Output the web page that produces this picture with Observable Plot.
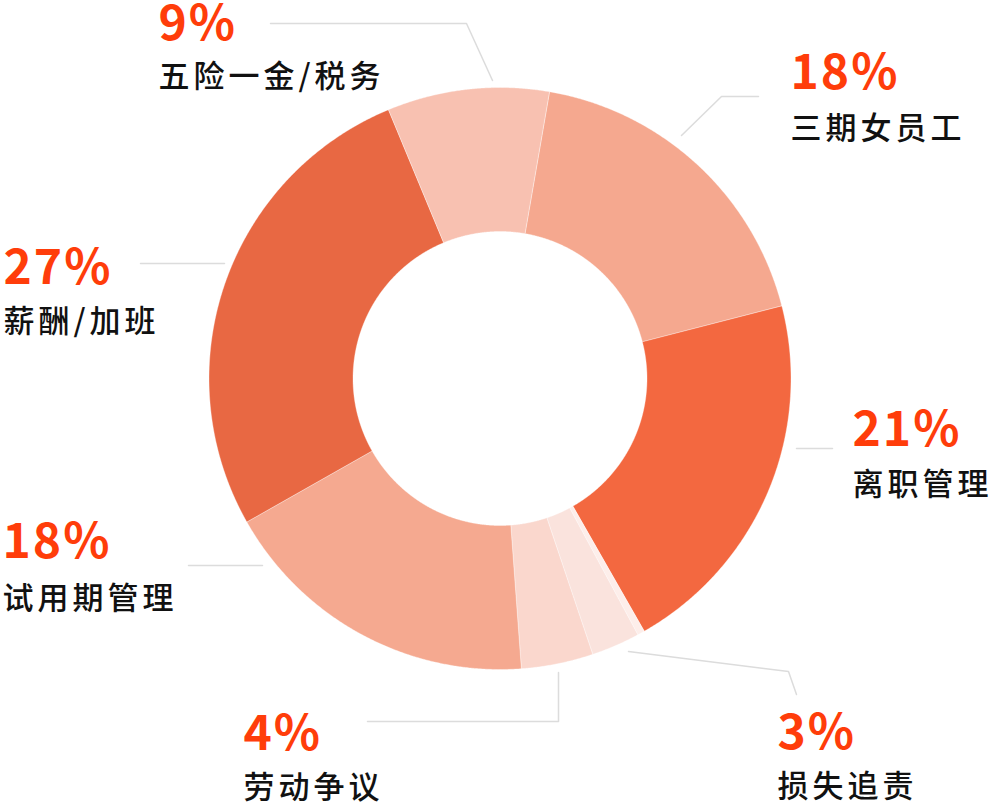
<!DOCTYPE html>
<html>
<head>
<meta charset="utf-8">
<script src="https://cdn.jsdelivr.net/npm/d3@7"></script>
<script src="https://cdn.jsdelivr.net/npm/@observablehq/plot@0.6"></script>
<style>
  html, body { margin: 0; padding: 0; background: #fff; }
  #chart svg { display: block; }
  g[aria-description="pct"] text { letter-spacing: 2px; }
  g[aria-description="name"] text { letter-spacing: 4px; }
</style>
</head>
<body>
<div id="chart"></div>
<script>
// ---- data (clockwise, starting just right of 12 o'clock) ----
const categories = ["三期女员工", "离职管理", "", "损失追责", "劳动争议", "试用期管理", "薪酬/加班", "五险一金/税务"];
const values = [18.3, 20.8, 0.4, 2.7, 4.0, 18.0, 27.0, 9.0];
const sliceColors = ["#f5a88f", "#f36840", "#fdeeea", "#fae3dd", "#fad7cd", "#f5a990", "#e86843", "#f8c1b1"];

// ---- layout (pixel-space annotation geometry) ----
const W = 991, H = 805;
const cx = 499.5, cy = 378, outerR = 291, innerR = 147;
const startDeg = 9.8;
// label anchor for each labelled category: text left x, percent baseline, name baseline
const labelPos = {
  "三期女员工": {x: 790, py: 88, ny: 138},
  "离职管理": {x: 852, py: 445, ny: 494},
  "损失追责": {x: 777, py: 748, ny: 796},
  "劳动争议": {x: 243, py: 749, ny: 797},
  "试用期管理": {x: 2, py: 557, ny: 608},
  "薪酬/加班": {x: 3, py: 283, ny: 331},
  "五险一金/税务": {x: 158, py: 39, ny: 86}
};
const leaders = {
  "三期女员工": [[681, 135], [721, 96], [758, 96]],
  "离职管理": [[796, 448], [832, 448]],
  "损失追责": [[628, 651], [788, 671], [796, 694]],
  "劳动争议": [[558, 672], [558, 721], [367, 721]],
  "试用期管理": [[262, 565], [188, 565]],
  "薪酬/加班": [[224, 263], [140, 263]],
  "五险一金/税务": [[492, 80], [466, 23], [270, 23]]
};

// ---- build slice polygons from the values ----
const total = d3.sum(values);
const rad = Math.PI / 180;
let acc = startDeg;
const slices = values.map((v, i) => {
  const a0 = acc, a1 = acc + v / total * 360;
  acc = a1;
  const pts = [];
  const n = Math.max(2, Math.ceil((a1 - a0) / 0.25));
  for (let k = 0; k <= n; k++) {
    const a = (a0 + (a1 - a0) * k / n) * rad;
    pts.push({x: cx + outerR * Math.sin(a), y: cy - outerR * Math.cos(a)});
  }
  for (let k = n; k >= 0; k--) {
    const a = (a0 + (a1 - a0) * k / n) * rad;
    pts.push({x: cx + innerR * Math.sin(a), y: cy - innerR * Math.cos(a)});
  }
  pts.push(pts[0]);
  return {name: categories[i], color: sliceColors[i], pts};
});

const labelled = categories.map((c, i) => ({c, v: values[i]})).filter(d => d.c !== "");
const pctRows = labelled.map(d => ({x: labelPos[d.c].x, y: labelPos[d.c].py, t: Math.round(d.v) + "%"}));
const nameRows = labelled.map(d => ({x: labelPos[d.c].x, y: labelPos[d.c].ny, t: d.c}));
const leaderRows = labelled.flatMap(d => leaders[d.c].map(([x, y]) => ({name: d.c, x, y})));

const chart = Plot.plot({
  width: W,
  height: H,
  margin: 0,
  x: {axis: null, domain: [0, W], range: [0, W]},
  y: {axis: null, domain: [0, H], range: [0, H]},
  marks: [
    ...slices.map(s => Plot.line(s.pts, {x: "x", y: "y", fill: s.color, stroke: "#ffffff", strokeOpacity: 0.35, strokeWidth: 1, curve: "linear"})),
    Plot.line(leaderRows, {x: "x", y: "y", z: "name", stroke: "#dcdcdc", strokeWidth: 1.5, curve: "linear"}),
    Plot.text(pctRows, {x: "x", y: "y", text: "t", textAnchor: "start", lineAnchor: "bottom", fontSize: 48, fontWeight: 700, fill: "#ff3d0a", fontFamily: "'Noto Sans CJK SC', 'Noto Sans', sans-serif", ariaDescription: "pct"}),
    Plot.text(nameRows, {x: "x", y: "y", text: "t", textAnchor: "start", lineAnchor: "bottom", fontSize: 31, fontWeight: 500, fill: "#111111", fontFamily: "'Noto Sans CJK SC', sans-serif", ariaDescription: "name"})
  ]
});
document.getElementById("chart").appendChild(chart);
</script>
</body>
</html>
